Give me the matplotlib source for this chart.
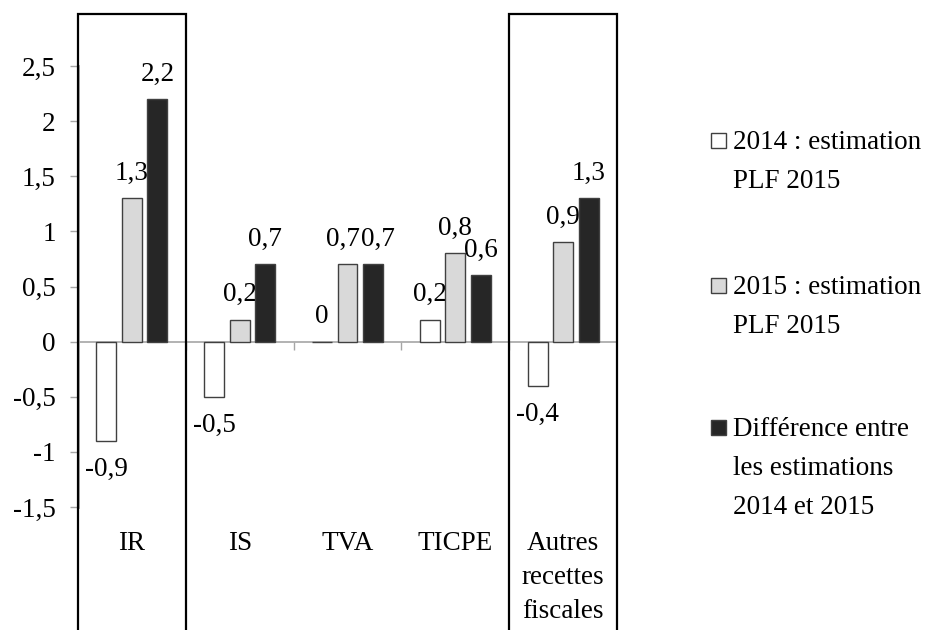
import numpy as np
import matplotlib.pyplot as plt
from matplotlib.patches import Rectangle
import matplotlib.transforms as mtransforms

plt.rcParams['font.family'] = ['Liberation Serif', 'DejaVu Serif']

categories = ["IR", "IS", "TVA", "TICPE", "Autres\nrecettes\nfiscales"]
est_2014 = [-0.9, -0.5, 0.0, 0.2, -0.4]
est_2015 = [1.3, 0.2, 0.7, 0.8, 0.9]
diff = [2.2, 0.7, 0.7, 0.6, 1.3]
series_names = ["2014 : estimation\nPLF 2015",
                "2015 : estimation\nPLF 2015",
                "Différence entre\nles estimations\n2014 et 2015"]
yticks = [-1.5, -1, -0.5, 0, 0.5, 1, 1.5, 2, 2.5]

colors = ["white", "#d9d9d9", "#262626"]
fs = 19.5

fig = plt.figure(figsize=(9.31, 6.3), dpi=100)
ax = fig.add_axes([78 / 931, 123 / 630, 539 / 931, 441 / 630])

x = np.arange(len(categories))
width = 0.185
step = 0.236
# small sideways nudges so neighbouring labels don't collide (TVA)
nudge = {(1, 2): -5, (2, 2): 5}
for i, (vals, col) in enumerate(zip([est_2014, est_2015, diff], colors)):
    xs = x + (i - 1) * step
    ax.bar(xs, vals, width=width, color=col, edgecolor="#404040", linewidth=1.0, zorder=3)
    for j, (xv, v) in enumerate(zip(xs, vals)):
        lbl = f"{v:g}".replace(".", ",")
        dx = nudge.get((i, j), 0)
        dy = -29 if v < 0 else 25
        ax.annotate(lbl, (xv, v), xytext=(dx, dy), textcoords="offset pixels",
                    ha="center", va="center", fontsize=fs)

ax.set_xlim(-0.5, len(categories) - 0.5)
ax.set_ylim(-1.5, 2.5)

# axes styling: grey left axis, zero line with category separators
for s in ["top", "right"]:
    ax.spines[s].set_visible(False)
ax.spines["left"].set_color("#a6a6a6")
ax.spines["left"].set_linewidth(2)
ax.spines["bottom"].set_position(("data", 0))
ax.spines["bottom"].set_color("#a6a6a6")
ax.spines["bottom"].set_linewidth(1.2)

ax.set_yticks(yticks)
ax.set_yticklabels([f"{t:g}".replace(".", ",") for t in yticks], fontsize=fs)
ax.tick_params(axis="y", length=6, width=1, color="#a6a6a6", pad=10)
ax.set_xticks(np.arange(0.5, len(categories) - 0.5, 1.0))
ax.set_xticklabels([])
ax.tick_params(axis="x", length=6, width=1, color="#a6a6a6", direction="out")

trans = mtransforms.blended_transform_factory(ax.transData, ax.transAxes)
for xi, c in zip(x, categories):
    ax.text(xi, -0.054, c, transform=trans, ha="center", va="top",
            fontsize=fs, linespacing=1.47)

# highlight boxes around IR and the other taxes
for xi in [0, 4]:
    ax.add_patch(Rectangle((xi - 0.5, -0.3), 1.0, 1.418, transform=trans,
                           fill=False, edgecolor="black", linewidth=1.6,
                           clip_on=False, zorder=5))

# legend drawn by hand
leg_y = [140, 285, 427]
for name, col, y in zip(series_names, colors, leg_y):
    fig.patches.append(Rectangle((711 / 931, 1 - (y + 8) / 630), 15 / 931, 15 / 630,
                                 transform=fig.transFigure, facecolor=col,
                                 edgecolor="#404040", linewidth=1.0))
    fig.text(733 / 931, 1 - (y - 10) / 630, name, ha="left", va="top",
             fontsize=fs, linespacing=1.75)

fig.savefig("out.png", dpi=100)
